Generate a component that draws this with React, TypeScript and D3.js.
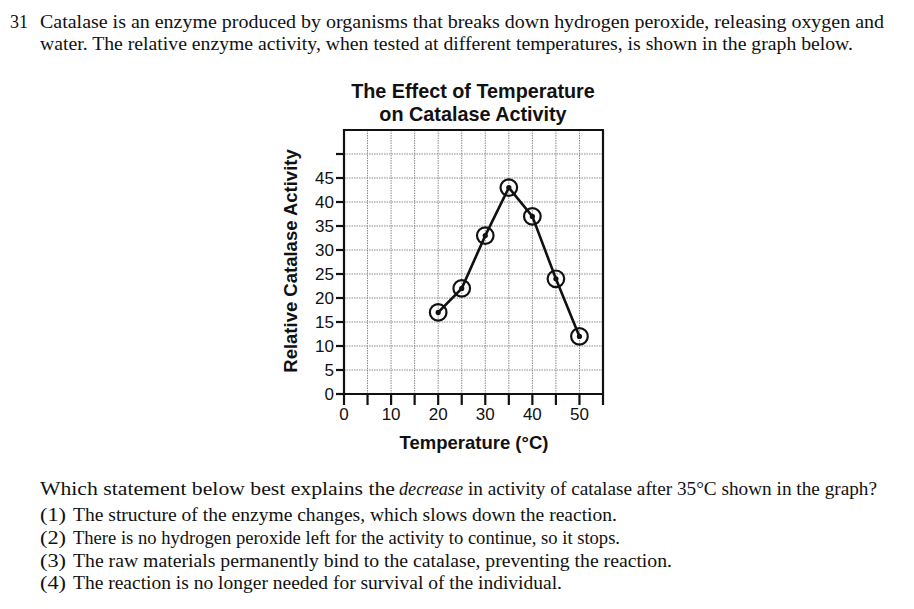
import React from "react";
import * as d3 from "d3";

const temperatures = [20, 25, 30, 35, 40, 45, 50];
const activity = [17, 22, 33, 43, 37, 24, 12];
const yTickValues = [0, 5, 10, 15, 20, 25, 30, 35, 40, 45];
const yTickMarks = [0, 5, 10, 15, 20, 25, 30, 35, 40, 45, 50];
const xTickValues = [0, 10, 20, 30, 40, 50];
const xTickMarks = [0, 5, 10, 15, 20, 25, 30, 35, 40, 45, 50, 55];
const gridValues = [5, 10, 15, 20, 25, 30, 35, 40, 45, 50];

const chartTitle = ["The Effect of Temperature", "on Catalase Activity"];
const xLabel = "Temperature (°C)";
const yLabel = "Relative Catalase Activity";

const introLines = [
  "Catalase is an enzyme produced by organisms that breaks down hydrogen peroxide, releasing oxygen and",
  "water. The relative enzyme activity, when tested at different temperatures, is shown in the graph below.",
];
const questionParts = [
  "Which statement below best explains the",
  "decrease",
  "in activity of catalase after 35°C shown in the graph?",
];
const optionNumbers = ["(1)", "(2)", "(3)", "(4)"];
const options = [
  "The structure of the enzyme changes, which slows down the reaction.",
  "There is no hydrogen peroxide left for the activity to continue, so it stops.",
  "The raw materials permanently bind to the catalase, preventing the reaction.",
  "The reaction is no longer needed for survival of the individual.",
];
const optionLengths = [544, 547, 599, 489];

export default function App() {
  const W = 914;
  const H = 609;
  const x = d3.scaleLinear().domain([0, 55]).range([344, 603]);
  const y = d3.scaleLinear().domain([0, 55]).range([394, 130]);
  const line = d3
    .line<number>()
    .x((_, i) => x(temperatures[i]))
    .y((d) => y(d));

  const serif = "'Liberation Serif', 'Times New Roman', serif";
  const sans = "'Liberation Sans', Arial, sans-serif";
  const optionBaselines = [521, 544, 567, 589];

  return (
    <svg
      width={W}
      height={H}
      style={{ position: "absolute", left: 0, top: 0, background: "#fff" }}
    >
      <rect x={0} y={0} width={W} height={H} fill="#fff" />
      {/* intro text */}
      <g fontFamily={serif} fontSize={19} fill="#111">
        <text x={10} y={28} textLength={18} lengthAdjust="spacingAndGlyphs">31</text>
        <text x={40} y={28} textLength={844} lengthAdjust="spacingAndGlyphs">
          {introLines[0]}
        </text>
        <text x={40} y={50} textLength={813} lengthAdjust="spacingAndGlyphs">
          {introLines[1]}
        </text>
      </g>

      {/* grid */}
      <g stroke="#8a8a8a" strokeWidth={1} strokeDasharray="1.5,1">
        {gridValues.map((v) => (
          <line key={"gx" + v} x1={x(v)} x2={x(v)} y1={y(55)} y2={y(0)} />
        ))}
        {gridValues.map((v) => (
          <line key={"gy" + v} x1={x(0)} x2={x(55)} y1={y(v)} y2={y(v)} />
        ))}
      </g>

      {/* frame */}
      <g stroke="#111" strokeWidth={2.2} fill="none">
        <line x1={x(0)} x2={x(0)} y1={y(55) - 1} y2={y(0) + 1} />
        <line x1={x(0)} x2={x(55) + 1} y1={y(0)} y2={y(0)} />
        <line x1={x(0) - 1} x2={x(55) + 1} y1={y(55)} y2={y(55)} />
        <line x1={x(55)} x2={x(55)} y1={y(55)} y2={y(0)} />
        {yTickMarks.map((v) => (
          <line key={"yt" + v} x1={x(0) - 8} x2={x(0)} y1={y(v)} y2={y(v)} />
        ))}
        {xTickMarks.map((v) => (
          <line key={"xt" + v} x1={x(v)} x2={x(v)} y1={y(0)} y2={y(0) + 11} />
        ))}
      </g>

      {/* tick labels */}
      <g fontFamily={sans} fontSize={17} fill="#111">
        {yTickValues.map((v) => (
          <text key={"yl" + v} x={x(0) - 10} y={y(v) + 6} textAnchor="end">
            {v}
          </text>
        ))}
        {xTickValues.map((v) => (
          <text key={"xl" + v} x={x(v)} y={420} textAnchor="middle">
            {v}
          </text>
        ))}
      </g>

      {/* axis titles */}
      <text
        x={474}
        y={449}
        textAnchor="middle"
        fontFamily={sans}
        fontWeight="bold"
        fontSize={18.5}
        fill="#111"
      >
        {xLabel}
      </text>
      <text
        transform={`translate(297,261) rotate(-90)`}
        textAnchor="middle"
        fontFamily={sans}
        fontWeight="bold"
        fontSize={18.5}
        fill="#111"
      >
        {yLabel}
      </text>

      {/* chart title */}
      <g fontFamily={sans} fontWeight="bold" fontSize={19.8} fill="#111" textAnchor="middle">
        <text x={473} y={98}>{chartTitle[0]}</text>
        <text x={473} y={121}>{chartTitle[1]}</text>
      </g>

      {/* data */}
      <path d={line(activity) || ""} fill="none" stroke="#111" strokeWidth={2.6} />
      {activity.map((v, i) => (
        <g key={"pt" + i}>
          <circle cx={x(temperatures[i])} cy={y(v)} r={8.3} fill="none" stroke="#111" strokeWidth={2.2} />
          <circle cx={x(temperatures[i])} cy={y(v)} r={2.6} fill="#111" />
        </g>
      ))}

      {/* question */}
      <g fontFamily={serif} fontSize={19} fill="#111">
        <text x={40} y={495} textLength={355} lengthAdjust="spacingAndGlyphs">
          {questionParts[0]}
        </text>
        <text x={399} y={495} fontStyle="italic" textLength={64} lengthAdjust="spacingAndGlyphs">
          {questionParts[1]}
        </text>
        <text x={468} y={495} textLength={409} lengthAdjust="spacingAndGlyphs">
          {questionParts[2]}
        </text>
        {options.map((o, i) => (
          <g key={"opt" + i}>
            <text x={40} y={optionBaselines[i]} textLength={26} lengthAdjust="spacingAndGlyphs">
              {optionNumbers[i]}
            </text>
            <text
              x={73}
              y={optionBaselines[i]}
              textLength={optionLengths[i]}
              lengthAdjust="spacingAndGlyphs"
            >
              {o}
            </text>
          </g>
        ))}
      </g>
    </svg>
  );
}
